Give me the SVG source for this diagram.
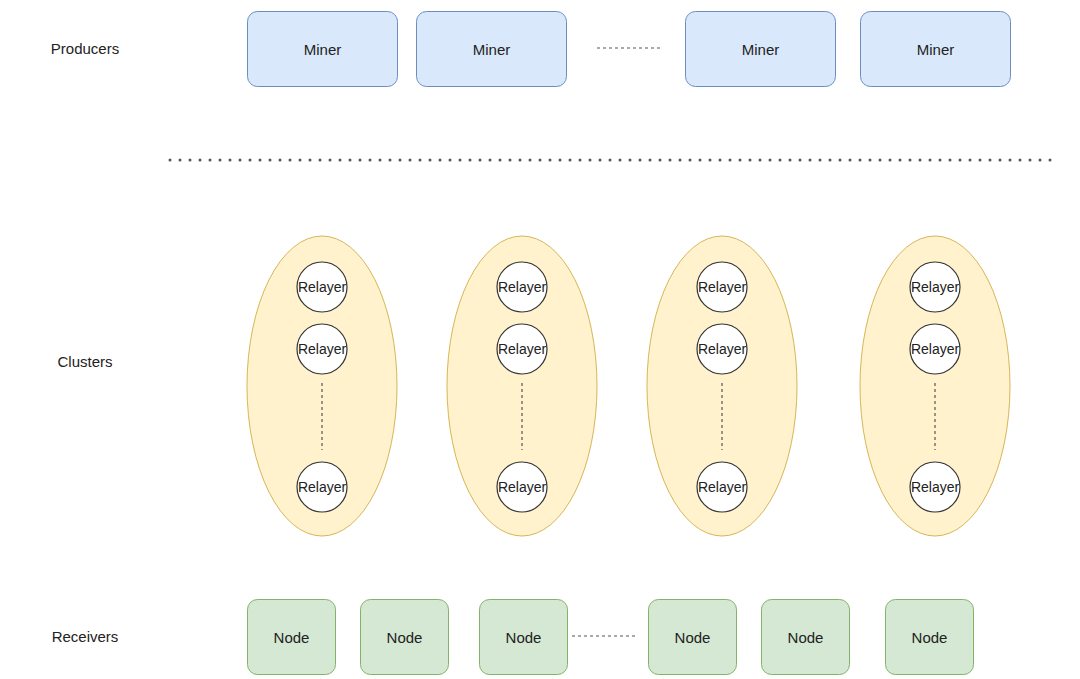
<svg xmlns="http://www.w3.org/2000/svg" width="1080" height="679" viewBox="0 0 1080 679">
<defs>
<style>
text{font-family:"Liberation Sans",Arial,sans-serif;fill:#222;text-anchor:middle;dominant-baseline:central}
.lbl{font-size:15px}
.m rect{fill:#dae8fc;stroke:#6c8ebf;stroke-width:1}
.m text{font-size:15px}
.n rect{fill:#d5e8d4;stroke:#82b366;stroke-width:1}
.n text{font-size:15px}
.c ellipse{fill:#fff2cc;stroke:#d6b656;stroke-width:1}
.r circle{fill:#fff;stroke:#333;stroke-width:1.2}
.r text{font-size:14px}
.dash{stroke:#555;stroke-width:1.2;stroke-dasharray:3 3;fill:none}
.dot{stroke:#555;stroke-width:3;stroke-linecap:round;stroke-dasharray:0 10;fill:none}
</style>
</defs>
<rect width="1080" height="679" fill="#fff"/>
<text class="lbl" x="85" y="48">Producers</text>
<text class="lbl" x="85" y="361">Clusters</text>
<text class="lbl" x="85" y="636">Receivers</text>

<g id="miner1" class="m"><rect x="247.5" y="11.5" width="150" height="75" rx="10"/><text x="322.5" y="49">Miner</text></g>
<g id="miner2" class="m"><rect x="416.5" y="11.5" width="150" height="75" rx="10"/><text x="491.5" y="49">Miner</text></g>
<g id="miner3" class="m"><rect x="685.5" y="11.5" width="150" height="75" rx="10"/><text x="760.5" y="49">Miner</text></g>
<g id="miner4" class="m"><rect x="860.5" y="11.5" width="150" height="75" rx="10"/><text x="935.5" y="49">Miner</text></g>

<g id="cluster1" class="c"><ellipse cx="322" cy="386" rx="75" ry="150"/></g>
<g id="cluster2" class="c"><ellipse cx="522" cy="386" rx="75" ry="150"/></g>
<g id="cluster3" class="c"><ellipse cx="722" cy="386" rx="75" ry="150"/></g>
<g id="cluster4" class="c"><ellipse cx="935" cy="386" rx="75" ry="150"/></g>

<g id="connectors">
<line class="dash" x1="597" y1="48" x2="661" y2="48"/>
<line class="dot" x1="170" y1="160" x2="1052" y2="160"/>
<line class="dash" x1="322" y1="383" x2="322" y2="450"/>
<line class="dash" x1="522" y1="383" x2="522" y2="450"/>
<line class="dash" x1="722" y1="383" x2="722" y2="450"/>
<line class="dash" x1="935" y1="383" x2="935" y2="450"/>
<line class="dash" x1="572" y1="636" x2="636" y2="636"/>
</g>

<g id="relayer1a" class="r"><circle cx="322" cy="287" r="25"/><text x="322" y="287">Relayer</text></g>
<g id="relayer1b" class="r"><circle cx="322" cy="349" r="25"/><text x="322" y="349">Relayer</text></g>
<g id="relayer1c" class="r"><circle cx="322" cy="487" r="25"/><text x="322" y="487">Relayer</text></g>
<g id="relayer2a" class="r"><circle cx="522" cy="287" r="25"/><text x="522" y="287">Relayer</text></g>
<g id="relayer2b" class="r"><circle cx="522" cy="349" r="25"/><text x="522" y="349">Relayer</text></g>
<g id="relayer2c" class="r"><circle cx="522" cy="487" r="25"/><text x="522" y="487">Relayer</text></g>
<g id="relayer3a" class="r"><circle cx="722" cy="287" r="25"/><text x="722" y="287">Relayer</text></g>
<g id="relayer3b" class="r"><circle cx="722" cy="349" r="25"/><text x="722" y="349">Relayer</text></g>
<g id="relayer3c" class="r"><circle cx="722" cy="487" r="25"/><text x="722" y="487">Relayer</text></g>
<g id="relayer4a" class="r"><circle cx="935" cy="287" r="25"/><text x="935" y="287">Relayer</text></g>
<g id="relayer4b" class="r"><circle cx="935" cy="349" r="25"/><text x="935" y="349">Relayer</text></g>
<g id="relayer4c" class="r"><circle cx="935" cy="487" r="25"/><text x="935" y="487">Relayer</text></g>

<g id="node1" class="n"><rect x="247.5" y="599.5" width="88" height="75" rx="10"/><text x="291.5" y="637">Node</text></g>
<g id="node2" class="n"><rect x="360.5" y="599.5" width="88" height="75" rx="10"/><text x="404.5" y="637">Node</text></g>
<g id="node3" class="n"><rect x="479.5" y="599.5" width="88" height="75" rx="10"/><text x="523.5" y="637">Node</text></g>
<g id="node4" class="n"><rect x="648.5" y="599.5" width="88" height="75" rx="10"/><text x="692.5" y="637">Node</text></g>
<g id="node5" class="n"><rect x="761.5" y="599.5" width="88" height="75" rx="10"/><text x="805.5" y="637">Node</text></g>
<g id="node6" class="n"><rect x="885.5" y="599.5" width="88" height="75" rx="10"/><text x="929.5" y="637">Node</text></g>
</svg>
